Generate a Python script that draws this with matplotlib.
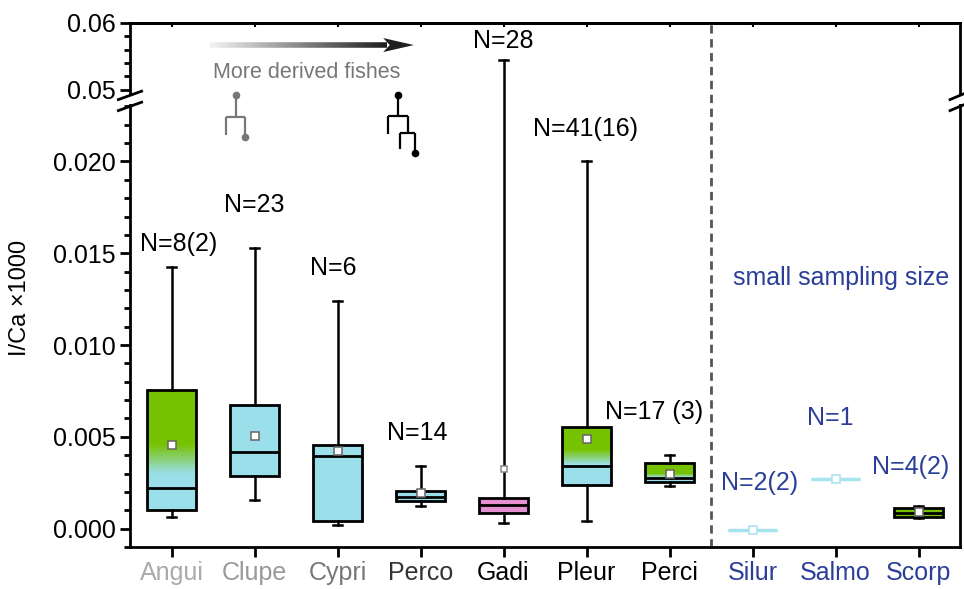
import numpy as np
import matplotlib
matplotlib.use('Agg')
import matplotlib.pyplot as plt
from matplotlib.collections import LineCollection

plt.rcParams['font.family'] = ['Liberation Sans', 'DejaVu Sans']

# box statistics (I/Ca x1000)
families = ['Angui', 'Clupe', 'Cypri', 'Perco', 'Gadi', 'Pleur', 'Perci', 'Silur', 'Salmo', 'Scorp']
whis_lo = [0.00063, 0.00154, 0.00022, 0.00125, 0.00030, 0.00041, 0.00232, -0.00008, 0.00272, 0.00060]
q1 = [0.00103, 0.00289, 0.00044, 0.00149, 0.00087, 0.00237, 0.00256, -0.00008, 0.00272, 0.00063]
median = [0.00221, 0.00415, 0.00395, 0.00174, 0.00127, 0.00343, 0.00278, -0.00008, 0.00272, 0.00087]
q3 = [0.00753, 0.00673, 0.00455, 0.00205, 0.00169, 0.00551, 0.00359, -0.00008, 0.00272, 0.00112]
whis_hi = [0.01424, 0.01528, 0.01242, 0.00341, 0.05450, 0.02005, 0.00399, -0.00008, 0.00272, 0.00125]
means = [0.00455, 0.00502, 0.00425, 0.00192, 0.00327, 0.00490, 0.00297, -0.00008, 0.00272, 0.00090]
n_labels = ['N=8(2)', 'N=23', 'N=6', 'N=14', 'N=28', 'N=41(16)', 'N=17 (3)', 'N=2(2)', 'N=1', 'N=4(2)']
n_label_x = [1.08, 2.0, 2.95, 3.96, 5.0, 5.99, 6.81, 8.09, 8.94, 9.91]
n_label_y = [0.01553, 0.01765, 0.01422, 0.00519, 0.0573, 0.02179, 0.00633, 0.00249, 0.0060, 0.00335]

# fill style per box: 'grad' = green top fading to cyan below
fills = ['grad', 'cyan', 'cyan', 'cyan', 'pink', 'grad', 'grad', 'line', 'line', 'green']
grad_green_from = {0: 0.0046, 5: 0.0043, 6: 0.0030}
grad_cyan_below = {0: 0.0030, 5: 0.0035, 6: 0.0028}
label_colors = ['#aaaaaa', '#999999', '#777777', '#333333', 'black', 'black', 'black',
                '#2b3f99', '#2b3f99', '#2b3f99']

major_ticks = [0.0, 0.005, 0.010, 0.015, 0.020, 0.05, 0.06]
major_labels = ['0.000', '0.005', '0.010', '0.015', '0.020', '0.05', '0.06']

GREEN = '#77c200'
CYAN = '#9bdfea'
PINK = '#e690d2'
LINE_CYAN = '#a6e3ee'
BLUE = '#2b3f99'

# broken axis as one piecewise-linear scale
A, B, G, K = 0.0233, 0.0484, 0.00002, 0.364


def fwd(v):
    v = np.asarray(v, dtype=float)
    return np.where(v <= A, v, np.where(v >= B, A + G + (v - B) * K, A + (v - A) * G / (B - A)))


def inv(u):
    u = np.asarray(u, dtype=float)
    return np.where(u <= A, u, np.where(u >= A + G, B + (u - A - G) / K, A + (u - A) * (B - A) / G))


fig = plt.figure(figsize=(9.64, 5.89), dpi=100)
ax = fig.add_axes([130 / 964, 42 / 589, 830 / 964, 524 / 589])
ax.set_yscale('function', functions=(fwd, inv))
ax.set_ylim(-0.001, 0.06)
ax.set_xlim(0.5, 10.5)

pos = np.arange(1, len(families) + 1)
stats = [dict(med=median[i], q1=q1[i], q3=q3[i], whislo=whis_lo[i], whishi=whis_hi[i],
              mean=means[i], fliers=[]) for i in range(len(families))]
bp = ax.bxp(stats, positions=pos, widths=0.6, capwidths=0.1, patch_artist=True, showmeans=True,
            boxprops=dict(linewidth=2, edgecolor='black'),
            medianprops=dict(linewidth=2, color='black'),
            whiskerprops=dict(linewidth=1.8, color='black'),
            capprops=dict(linewidth=1.8, color='black'),
            meanprops=dict(marker='s', markersize=5.5, markerfacecolor='white',
                           markeredgecolor='#666666', markeredgewidth=1.1))

c_green = np.array(matplotlib.colors.to_rgb(GREEN))
c_cyan = np.array(matplotlib.colors.to_rgb(CYAN))
for i, kind in enumerate(fills):
    box = bp['boxes'][i]
    if kind == 'cyan':
        box.set_facecolor(CYAN)
    elif kind == 'pink':
        box.set_facecolor(PINK)
    elif kind == 'green':
        box.set_facecolor(GREEN)
    elif kind == 'grad':
        box.set_facecolor('none')
        edges = np.linspace(q1[i], q3[i], 90)
        mids = (edges[:-1] + edges[1:]) / 2
        t = np.clip((mids - grad_cyan_below[i]) / (grad_green_from[i] - grad_cyan_below[i]), 0, 1)
        cols = [tuple(c_cyan * (1 - tt) + c_green * tt) for tt in t]
        ax.bar([pos[i]] * len(mids), np.diff(edges) * 1.02, bottom=edges[:-1], width=0.6,
               color=cols, linewidth=0, zorder=1.5)
    elif kind == 'line':
        box.set_facecolor('none')
        box.set_edgecolor(LINE_CYAN)
        box.set_linewidth(2.5)
        bp['medians'][i].set_color(LINE_CYAN)
        for art in bp['whiskers'][2 * i:2 * i + 2] + bp['caps'][2 * i:2 * i + 2]:
            art.set_visible(False)
        bp['means'][i].set_markeredgecolor(LINE_CYAN)
for m in bp['means']:
    m.set_zorder(5)
bp['means'][4].set_markeredgecolor('#888888')
bp['means'][4].set_markersize(5)

# N labels
for i, lab in enumerate(n_labels):
    ax.text(n_label_x[i], n_label_y[i], lab, ha='center', va='center', fontsize=18,
            color=BLUE if i >= 7 else 'black')
ax.text(9.07, 0.01363, 'small sampling size', ha='center', va='center', fontsize=18, color=BLUE)
ax.text(2.63, 0.05254, 'More derived fishes', ha='center', va='center', fontsize=15.5, color='#777777')

# gradient arrow
xs = np.linspace(1.46, 3.6, 60)
segs = [[(xs[k], 0.0567), (xs[k + 1], 0.0567)] for k in range(len(xs) - 1)]
shade = np.linspace(0.95, 0.12, len(segs))
ax.add_collection(LineCollection(segs, colors=[(s, s, s) for s in shade], linewidths=4, capstyle='butt'))
ax.fill([3.55, 3.92, 3.55, 3.63], [0.05775, 0.0567, 0.05565, 0.0567], color='#1f1f1f', lw=0)

# separator between groups
ax.axvline(7.5, color='#555555', linestyle=(0, (3, 2)), linewidth=2, zorder=0)


# small cladogram glyphs (drawn in pixel-like axes fractions)
def frac(xp, yp):
    return (xp - 130) / 830, (547 - yp) / 524


def glyph(lines, dots, color):
    for (x0, y0), (x1, y1) in lines:
        a, b = frac(x0, y0)
        c, d = frac(x1, y1)
        ax.plot([a, c], [b, d], color=color, lw=1.6, transform=ax.transAxes, clip_on=False,
                solid_capstyle='butt')
    for (x0, y0) in dots:
        a, b = frac(x0, y0)
        ax.plot(a, b, 'o', color=color, ms=4.5, transform=ax.transAxes, clip_on=False)


glyph([((236, 95), (236, 117)), ((226, 117), (245, 117)), ((226, 117), (226, 135)),
       ((245, 117), (245, 137))], [(236, 95), (245, 137)], '#777777')
glyph([((398, 95), (398, 116)), ((388, 116), (408, 116)), ((388, 116), (388, 134)),
       ((408, 116), (408, 133)), ((400, 133), (415, 133)), ((400, 133), (400, 149)),
       ((415, 133), (415, 153))], [(398, 95), (415, 153)], 'black')

# axis styling
for s in ax.spines.values():
    s.set_linewidth(2)
ax.set_xticks(pos)
ax.set_xticklabels(families, fontsize=18)
for lbl, col in zip(ax.get_xticklabels(), label_colors):
    lbl.set_color(col)
ax.set_yticks(major_ticks)
ax.set_yticklabels(major_labels, fontsize=18)
minor = list(np.round(np.arange(-0.001, 0.0231, 0.001), 4)) + [0.052, 0.054, 0.056, 0.058]
ax.set_yticks(minor, minor=True)
ax.tick_params(axis='both', which='major', direction='out', length=7, width=2, pad=3)
ax.tick_params(axis='y', which='minor', direction='out', length=4.5, width=2)
ax.tick_params(axis='x', which='minor', bottom=False)
top = ax.secondary_xaxis('top')
top.set_xticks(pos, labels=[''] * len(pos))
top.tick_params(direction='in', length=3, width=1.5)
top.spines['top'].set_linewidth(2)

# break marks on both spines
yb = (fwd(A) - fwd(-0.001)) / (fwd(0.06) - fwd(-0.001))
for xa, half in ((0.0, 0.014), (1.0, 0.012)):
    ax.fill([xa - 0.004, xa + 0.004, xa + 0.004, xa - 0.004],
            [yb - 0.006, yb - 0.006, yb + 0.012, yb + 0.012],
            color='white', transform=ax.transAxes, clip_on=False, zorder=6, lw=0)
    for dy in (-0.0105, 0.0105):
        ax.plot([xa - half, xa + half], [yb + dy - 0.008, yb + dy + 0.008], color='black', lw=2,
                transform=ax.transAxes, clip_on=False, zorder=7)

fig.text(20 / 964, 1 - 298 / 589, 'I/Ca \u00d71000', rotation=90, ha='center', va='center', fontsize=17)

fig.savefig('out.png', dpi=100)
